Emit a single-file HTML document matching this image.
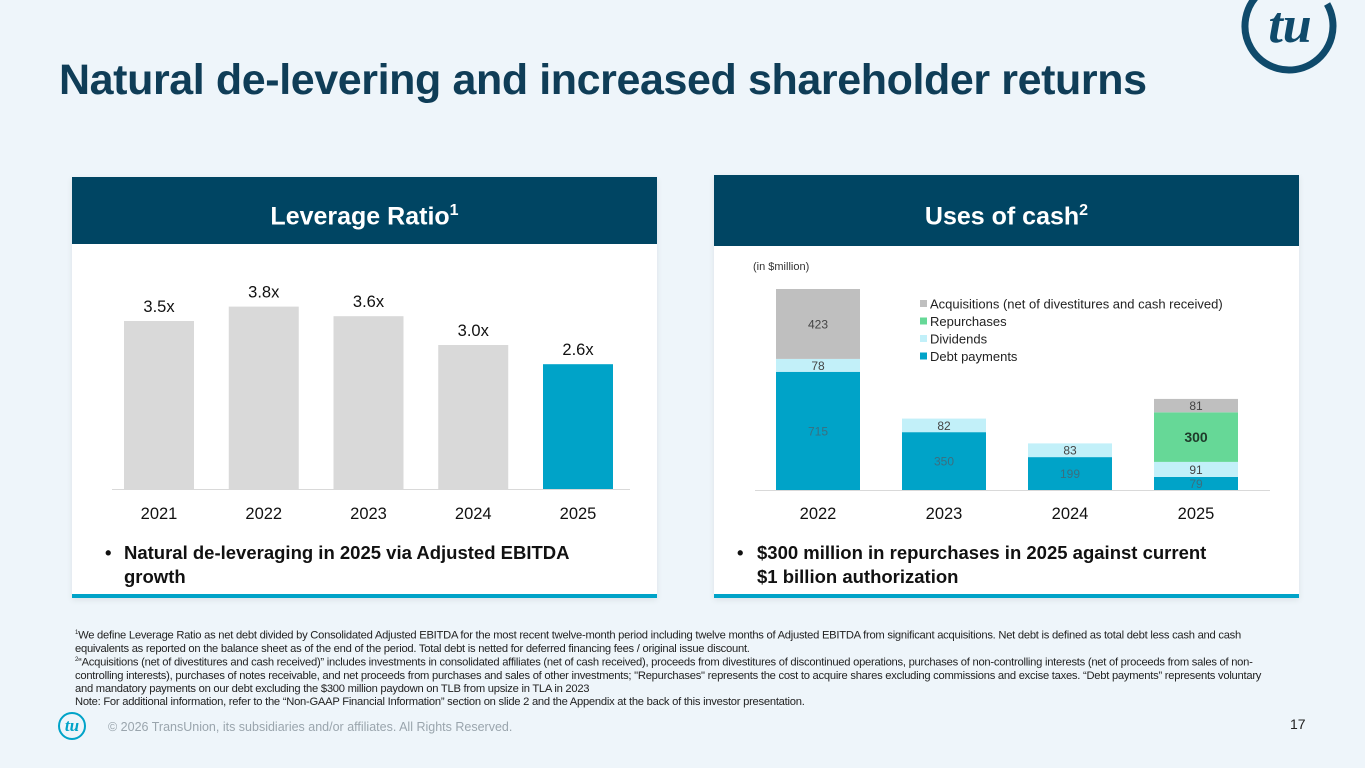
<!DOCTYPE html>
<html><head><meta charset="utf-8"><style>
body{margin:0;width:1365px;height:768px;background:#eef5fa;font-family:"Liberation Sans",sans-serif;position:relative;overflow:hidden}
.abs{position:absolute}
.title{left:59px;top:56px;font-size:43px;font-weight:bold;color:#0f3d57;letter-spacing:-0.4px;white-space:nowrap}
.panel{background:#fff;box-shadow:0 2px 6px rgba(0,0,0,0.08)}
.hdr{background:#004563;color:#fff;font-weight:bold;font-size:25px;text-align:center}
.blue{background:#00a3c8}
.fn{left:75px;font-size:11.2px;color:#222;line-height:13px;width:1205px;letter-spacing:-0.25px}
</style></head><body>
<div class="abs title">Natural de-levering and increased shareholder returns</div>
<svg class="abs" style="left:1230px;top:0px" width="120" height="80">
<circle cx="59" cy="26" r="44" fill="none" stroke="#0f4a6b" stroke-width="7" stroke-dasharray="200 400" transform="rotate(-30 59 26)"/>
<text x="60" y="42" font-family="Liberation Serif,serif" font-style="italic" font-weight="bold" font-size="52" fill="#0f4a6b" text-anchor="middle">tu</text>
</svg>

<div class="abs panel" style="left:72px;top:177px;width:585px;height:421px"></div>
<div class="abs hdr" style="left:72px;top:177px;width:585px;height:67px;line-height:67px">Leverage Ratio<sup style="font-size:16px">1</sup></div>
<div class="abs blue" style="left:72px;top:594px;width:585px;height:4px"></div>

<div class="abs panel" style="left:714px;top:175px;width:585px;height:423px"></div>
<div class="abs hdr" style="left:714px;top:175px;width:585px;height:71px;line-height:71px">Uses of cash<sup style="font-size:16px">2</sup></div>
<div class="abs blue" style="left:714px;top:594px;width:585px;height:4px"></div>

<svg id="lev" class="abs" style="left:0;top:0" width="1365" height="768"></svg>

<div class="abs" style="left:105px;top:541px;font-size:18.5px;font-weight:bold;color:#111;line-height:24px;width:520px"><span style="position:absolute;left:0">•</span><div style="margin-left:19px">Natural de-leveraging in 2025 via Adjusted EBITDA growth</div></div>
<div class="abs" style="left:737px;top:541px;font-size:18.5px;font-weight:bold;color:#111;line-height:24px;width:530px"><span style="position:absolute;left:0">•</span><div style="margin-left:20px">$300 million in repurchases in 2025 against current $1&nbsp;billion authorization</div></div>

<div class="abs fn" style="top:627px"><sup style="font-size:6px">1</sup>We define Leverage Ratio as net debt divided by Consolidated Adjusted EBITDA for the most recent twelve-month period including twelve months of Adjusted EBITDA from significant acquisitions. Net debt is defined as total debt less cash and cash equivalents as reported on the balance sheet as of the end of the period. Total debt is netted for deferred financing fees / original issue discount.</div>
<div class="abs fn" style="top:654px"><sup style="font-size:6px">2</sup>“Acquisitions (net of divestitures and cash received)” includes investments in consolidated affiliates (net of cash received), proceeds from divestitures of discontinued operations, purchases of non-controlling interests (net of proceeds from sales of non-controlling interests), purchases of notes receivable, and net proceeds from purchases and sales of other investments; "Repurchases" represents the cost to acquire shares excluding commissions and excise taxes. “Debt payments” represents voluntary and mandatory payments on our debt excluding the $300 million paydown on TLB from upsize in TLA in 2023<br>Note: For additional information, refer to the “Non-GAAP Financial Information” section on slide 2 and the Appendix at the back of this investor presentation.</div>
<div class="abs" style="left:58px;top:712px;width:28px;height:28px;border-radius:50%;border:2px solid #00a3c8;box-sizing:border-box;color:#00a3c8;font:italic bold 17px 'Liberation Serif',serif;text-align:center;line-height:23px">tu</div>
<div class="abs" style="left:108px;top:720px;font-size:12.5px;color:#9aa5ad">© 2026 TransUnion, its subsidiaries and/or affiliates. All Rights Reserved.</div>
<div class="abs" style="left:1290px;top:716px;font-size:14px;color:#222">17</div>

<script>
const levYears=["2021","2022","2023","2024","2025"];
const levValues=[3.5,3.8,3.6,3.0,2.6];
const levLabels=["3.5x","3.8x","3.6x","3.0x","2.6x"];

const cashYears=["2022","2023","2024","2025"];
const debtPay=[715,350,199,79];
const dividends=[78,82,83,91];
const repurch=[0,0,0,300];
const acquis=[423,0,0,81];
const seriesNames=["Acquisitions (net of divestitures and cash received)","Repurchases","Dividends","Debt payments"];

const NS="http://www.w3.org/2000/svg";
const svg=document.getElementById('lev');
function mk(tag,attrs,parent){const e=document.createElementNS(NS,tag);for(const k in attrs)e.setAttribute(k,attrs[k]);(parent||svg).appendChild(e);return e;}
function txt(x,y,s,size,fill,weight,anchor){const t=mk('text',{x:x,y:y,'font-size':size,fill:fill,'font-weight':weight||'normal','text-anchor':anchor||'middle','font-family':'Liberation Sans, sans-serif'});t.textContent=s;return t;}

const lBase=489, lScale=48, lX0=124, lStep=104.75, lW=70;
const lx=i=>lX0+i*lStep, ly=v=>lBase-v*lScale;
const ax=mk('line',{x1:112,x2:630,y1:lBase+0.5,y2:lBase+0.5,stroke:'#d9d9d9','stroke-width':1});


levValues.forEach((v,i)=>{
  const r=mk('rect',{x:lx(i),y:ly(v),width:lW,height:v*lScale,fill:i===levValues.length-1?'#00a3c8':'#d9d9d9'});
  
  
  const l=txt(lx(i)+lW/2,ly(v)-9,levLabels[i],16.5,'#111');
  
  
  const y=txt(lx(i)+lW/2,519,levYears[i],16.5,'#111');
  
  
});

const cBase=490, cScale=201/1216, cX0=776, cStep=126, cW=84;
const cx=i=>cX0+i*cStep, ch=v=>v*cScale;
const ax2=mk('line',{x1:755,x2:1270,y1:cBase+0.5,y2:cBase+0.5,stroke:'#d9d9d9','stroke-width':1});


const unit=txt(753,270,'(in $million)',11,'#333','normal','start');


const stack=[[debtPay,'#00a3c8','debt'],[dividends,'#c2f0f9','dividends'],[repurch,'#66d897','repurchases'],[acquis,'#bfbfbf','acquisitions']];
cashYears.forEach((yr,i)=>{
  let top=cBase;
  stack.forEach(([arr,col,nm])=>{
    const v=arr[i]; if(!v) return;
    const h=ch(v); top-=h;
    const r=mk('rect',{x:cx(i),y:top,width:cW,height:h,fill:col});
    
    
    const big=nm==='repurchases';
    const t=txt(cx(i)+cW/2,top+h/2+(big?5:4.5),String(v),big?14:12,big?'#1e3a2a':(nm==='debt'?'#3a6f80':'#444'),big?'bold':'normal');
    
    
  });
  const y=txt(cx(i)+cW/2,519,yr,16.5,'#111');
  
  
});
const legCols=['#bfbfbf','#66d897','#c2f0f9','#00a3c8'];
seriesNames.forEach((n,k)=>{
  const yy=304+k*17.5;
  const s=mk('rect',{x:920,y:yy-4,width:7,height:7,fill:legCols[k]});
  
  
  const t=txt(930,yy+4.5,n,13,'#222','normal','start');
  
  
});
</script>
</body></html>
